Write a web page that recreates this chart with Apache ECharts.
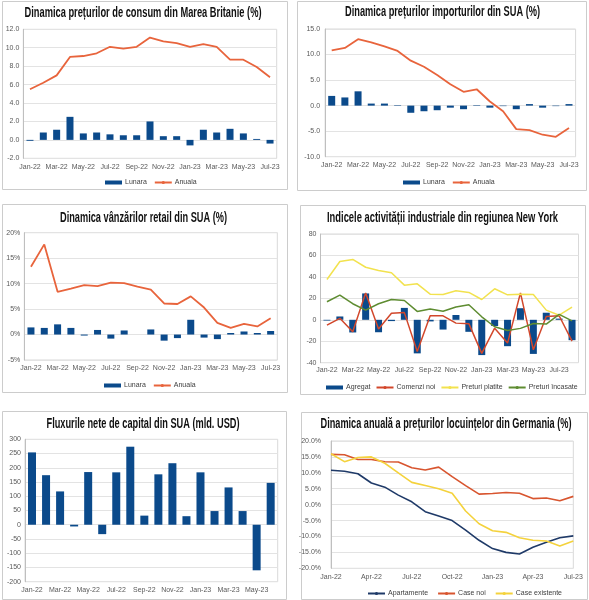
<!DOCTYPE html>
<html><head><meta charset="utf-8">
<script src="https://cdn.jsdelivr.net/npm/echarts@6/dist/echarts.min.js"></script>
<style>
html,body{margin:0;padding:0;background:#fff;width:589px;height:600px;overflow:hidden}
#c{position:absolute;left:0;top:0;width:589px;height:600px}
</style></head><body>
<div id="c"></div>
<script>
// ---------- DATA ----------
const months19 = ['Jan-22','Feb-22','Mar-22','Apr-22','May-22','Jun-22','Jul-22','Aug-22','Sep-22','Oct-22','Nov-22','Dec-22','Jan-23','Feb-23','Mar-23','Apr-23','May-23','Jun-23','Jul-23'];
const months20 = ['Jan-22','Feb-22','Mar-22','Apr-22','May-22','Jun-22','Jul-22','Aug-22','Sep-22','Oct-22','Nov-22','Dec-22','Jan-23','Feb-23','Mar-23','Apr-23','May-23','Jun-23','Jul-23','Aug-23'];
const months18 = ['Jan-22','Feb-22','Mar-22','Apr-22','May-22','Jun-22','Jul-22','Aug-22','Sep-22','Oct-22','Nov-22','Dec-22','Jan-23','Feb-23','Mar-23','Apr-23','May-23','Jun-23'];

const titles = [
  'Dinamica prețurilor de consum din Marea Britanie (%)',
  'Dinamica prețurilor importurilor din SUA (%)',
  'Dinamica vânzărilor retail din SUA (%)',
  'Indicele activității industriale din regiunea New York',
  'Fluxurile nete de capital din SUA (mld. USD)',
  'Dinamica anuală a prețurilor locuințelor din Germania (%)'
];

const ukMonthly = [-0.1,0.8,1.1,2.5,0.7,0.8,0.6,0.5,0.5,2.0,0.4,0.4,-0.6,1.1,0.8,1.2,0.7,0.1,-0.4];
const ukAnnual  = [5.5,6.2,7.0,9.0,9.1,9.4,10.1,9.9,10.1,11.1,10.7,10.5,10.1,10.4,10.1,8.7,8.7,7.9,6.8];

const usImpMonthly = [1.9,1.6,2.8,0.4,0.4,0.1,-1.4,-1.1,-0.9,-0.4,-0.7,0.1,-0.4,-0.1,-0.7,0.3,-0.4,-0.1,0.3];
const usImpAnnual  = [10.8,11.3,13.0,12.4,11.6,10.7,8.8,7.6,6.0,4.2,2.7,3.2,0.8,-1.1,-4.6,-4.8,-5.7,-6.1,-4.4];

const usRetMonthly = [1.4,1.3,2.0,1.3,-0.2,0.9,-0.8,0.8,0.0,1.0,-1.2,-0.7,2.9,-0.6,-0.9,0.3,0.6,0.3,0.7];
const usRetAnnual  = [13.3,17.7,8.4,9.0,9.7,9.5,10.2,10.1,9.4,8.8,6.1,6.0,7.5,5.3,2.3,1.3,2.1,1.6,3.2];

const nyAgregat = [-0.7,3.1,-11.8,24.6,-11.6,-1.2,11.1,-31.3,-1.5,-9.1,4.5,-11.2,-32.9,-5.8,-24.6,10.8,-31.8,6.6,1.1,-19.0];
const nyNewOrders = [-5.0,1.4,-11.2,25.1,-8.5,6.2,6.7,-29.6,3.7,3.7,-3.1,-3.6,-31.3,-7.8,-21.7,25.1,-28.0,3.1,3.8,-19.9];
const nyPricesPaid = [37.6,54.3,56.3,49.0,46.0,43.8,32.3,33.5,23.9,23.6,27.0,25.5,18.9,28.9,23.3,23.9,23.6,9.0,4.3,11.8];
const nyPricesReceived = [16.8,23.0,15.0,9.0,15.0,19.0,18.0,7.8,10.0,8.0,12.0,14.0,2.8,-6.5,-10.0,-8.0,-3.4,-4.0,5.0,-1.0];

const capFlows = [254,174,117,-6,185,-33,184,274,32,177,216,30,184,48,131,48,-160,147];

const deApartments = [10.8,10.5,9.7,6.8,5.5,3.0,0.9,-2.2,-3.6,-5.0,-8.0,-11.2,-13.8,-15.0,-15.5,-13.4,-11.8,-10.4,-9.8];
const deNewHouses  = [15.8,15.7,14.2,14.2,13.5,13.4,11.6,10.9,11.8,8.8,6.0,3.3,3.5,3.8,3.6,1.9,2.1,1.2,2.6];
const deExisting   = [16.0,13.5,14.8,15.0,13.0,10.0,7.0,6.0,5.0,3.6,-2.0,-6.0,-8.2,-8.7,-10.4,-11.2,-11.4,-13.0,-11.4];

// ---------- STYLE / LAYOUT ----------
const BAR = '#0b4a8b';
const ORANGE = '#e8643c';
const FONT = 'Liberation Sans';
const LBL = '#595959';
const GRIDC = '#e3e3e3';
const TSIZE = 14;

const panels = [
  {box:[2,1,285,188],    title:[143,13.3,237],  grid:[23.3,29.3,253.4,129],  legend:[105,179]},
  {box:[297,1,289,189],  title:[442.5,11.7,195],grid:[325.1,29,250.5,127.7], legend:[403,179]},
  {box:[2,204,285,188],  title:[143.5,218.3,167],grid:[24.3,232.7,253,127.3],legend:[104,382]},
  {box:[300,205,285,189],title:[442.5,218.3,231],grid:[320.5,234,258,128.7], legend:[326,384]},
  {box:[2,411,284,188],  title:[143,424.3,193], grid:[25,439.3,252.7,142.4], legend:null},
  {box:[301,412,286,187],title:[446,424.3,251], grid:[331,441,242.3,127.3],  legend:[367,590]}
];

const measureCtx = document.createElement('canvas').getContext('2d');
measureCtx.font = 'bold ' + TSIZE + 'px "' + FONT + '"';

const graphics = [];
panels.forEach((p,i) => {
  graphics.push({type:'rect', z:-10, silent:true,
    shape:{x:p.box[0]+0.5, y:p.box[1]+0.5, width:p.box[2], height:p.box[3]},
    style:{fill:'#fff', stroke:'#cccccc', lineWidth:1}});
  const w = measureCtx.measureText(titles[i]).width;
  graphics.push({type:'text', x:p.title[0], y:p.title[1], scaleX:p.title[2]/w, silent:true, z:10,
    style:{text:titles[i], fill:'#111', fontSize:TSIZE, fontWeight:'bold', fontFamily:FONT,
      align:'center', verticalAlign:'middle', textAlign:'center', textVerticalAlign:'middle'}});
});

const option = {
  animation:false,
  backgroundColor:'#fff',
  legend:[], grid:[], xAxis:[], yAxis:[], series:[],
  graphic: graphics
};

panels.forEach(p => {
  option.grid.push({left:p.grid[0], top:p.grid[1], width:p.grid[2], height:p.grid[3],
    show:true, borderColor:'#d9d9d9', borderWidth:1, containLabel:false});
});

function xCat(gi, data, opts) {
  return Object.assign({type:'category', gridIndex:gi, data:data, boundaryGap:true,
    axisLine:{onZero:false, show:false}, axisTick:{show:false},
    axisLabel:{interval:1, fontFamily:FONT, fontSize:7, color:LBL, margin:5},
    splitLine:{show:false}}, opts||{});
}
function yVal(gi, min, max, step, fmt, margin) {
  return {type:'value', gridIndex:gi, min:min, max:max, interval:step,
    axisLine:{show:true, lineStyle:{color:'#bfbfbf'}}, axisTick:{show:false},
    axisLabel:{fontFamily:FONT, fontSize:7, color:LBL, margin:margin, formatter:fmt},
    splitLine:{show:true, lineStyle:{color:GRIDC, width:1}}};
}
function legendAt(p, items, gap) {
  return {left:p.legend[0], top:p.legend[1], width:400, padding:0, itemGap:gap||7, itemWidth:17, itemHeight:4,
    textStyle:{fontFamily:FONT, fontSize:7, color:'#404040', padding:[0,0,0,-2]}, data:items};
}
const f1 = v => v.toFixed(1);

// Panel 1 - UK CPI
option.xAxis.push(xCat(0, months19));
option.yAxis.push(yVal(0, -2, 12, 2, f1, 4));
option.series.push({name:'Lunara', type:'bar', xAxisIndex:0, yAxisIndex:0, data:ukMonthly, barWidth:7, itemStyle:{color:BAR}});
option.series.push({name:'Anuala', type:'line', xAxisIndex:0, yAxisIndex:0, data:ukAnnual, symbol:'none', lineStyle:{color:ORANGE, width:1.8}, itemStyle:{color:ORANGE}});
option.legend.push(legendAt(panels[0], [{name:'Lunara', icon:'rect'}, {name:'Anuala'}]));

// Panel 2 - US import prices
option.xAxis.push(xCat(1, months19));
option.yAxis.push(yVal(1, -10, 15, 5, f1, 5));
option.series.push({name:'Lunara', type:'bar', xAxisIndex:1, yAxisIndex:1, data:usImpMonthly, barWidth:7, itemStyle:{color:BAR}});
option.series.push({name:'Anuala', type:'line', xAxisIndex:1, yAxisIndex:1, data:usImpAnnual, symbol:'none', lineStyle:{color:ORANGE, width:1.8}, itemStyle:{color:ORANGE}});
option.legend.push(legendAt(panels[1], [{name:'Lunara', icon:'rect'}, {name:'Anuala'}]));

// Panel 3 - US retail
option.xAxis.push(xCat(2, months19));
option.yAxis.push(yVal(2, -5, 20, 5, '{value}%', 4));
option.series.push({name:'Lunara', type:'bar', xAxisIndex:2, yAxisIndex:2, data:usRetMonthly, barWidth:7, itemStyle:{color:BAR}});
option.series.push({name:'Anuala', type:'line', xAxisIndex:2, yAxisIndex:2, data:usRetAnnual, symbol:'none', lineStyle:{color:ORANGE, width:1.8}, itemStyle:{color:ORANGE}});
option.legend.push(legendAt(panels[2], [{name:'Lunara', icon:'rect'}, {name:'Anuala'}]));

// Panel 4 - NY Empire
option.xAxis.push(xCat(3, months20, {axisLabel:{interval:1, fontFamily:FONT, fontSize:7, color:LBL, margin:4}}));
option.yAxis.push(yVal(3, -40, 80, 20, '{value}', 4));
option.series.push({name:'Agregat', type:'bar', xAxisIndex:3, yAxisIndex:3, data:nyAgregat, barWidth:7, itemStyle:{color:BAR}});
option.series.push({name:'Comenzi noi', type:'line', xAxisIndex:3, yAxisIndex:3, data:nyNewOrders, symbol:'none', lineStyle:{color:'#d2472b', width:1.5}, itemStyle:{color:'#d2472b'}});
option.series.push({name:'Preturi platite', type:'line', xAxisIndex:3, yAxisIndex:3, data:nyPricesPaid, symbol:'none', lineStyle:{color:'#f2e24e', width:1.5}, itemStyle:{color:'#f2e24e'}});
option.series.push({name:'Preturi încasate', type:'line', xAxisIndex:3, yAxisIndex:3, data:nyPricesReceived, symbol:'none', lineStyle:{color:'#5e8c31', width:1.5}, itemStyle:{color:'#5e8c31'}});
option.legend.push(legendAt(panels[3], [{name:'Agregat', icon:'rect'}, {name:'Comenzi noi'}, {name:'Preturi platite'}, {name:'Preturi încasate'}], 5));

// Panel 5 - capital flows
option.xAxis.push(xCat(4, months18, {axisLabel:{interval:1, fontFamily:FONT, fontSize:7, color:LBL, margin:4.5}}));
option.yAxis.push(yVal(4, -200, 300, 50, '{value}', 4));
option.series.push({name:'Fluxuri', type:'bar', xAxisIndex:4, yAxisIndex:4, data:capFlows, barWidth:8, itemStyle:{color:BAR}});

// Panel 6 - Germany house prices
option.xAxis.push(xCat(5, months19, {boundaryGap:false, axisLabel:{interval:2, fontFamily:FONT, fontSize:7, color:LBL, margin:5.5}}));
option.yAxis.push(yVal(5, -20, 20, 5, v => v.toFixed(1)+'%', 10));
option.series.push({name:'Apartamente', type:'line', xAxisIndex:5, yAxisIndex:5, data:deApartments, symbol:'none', lineStyle:{color:'#1f3a68', width:1.6}, itemStyle:{color:'#1f3a68'}});
option.series.push({name:'Case noi', type:'line', xAxisIndex:5, yAxisIndex:5, data:deNewHouses, symbol:'none', lineStyle:{color:'#d8552f', width:1.6}, itemStyle:{color:'#d8552f'}});
option.series.push({name:'Case existente', type:'line', xAxisIndex:5, yAxisIndex:5, data:deExisting, symbol:'none', lineStyle:{color:'#f4d23c', width:1.6}, itemStyle:{color:'#f4d23c'}});
option.legend.push(legendAt(panels[5], [{name:'Apartamente'}, {name:'Case noi'}, {name:'Case existente'}], 9));

const chart = echarts.init(document.getElementById('c'), null, {renderer:'canvas'});
chart.setOption(option);
</script>
</body></html>
